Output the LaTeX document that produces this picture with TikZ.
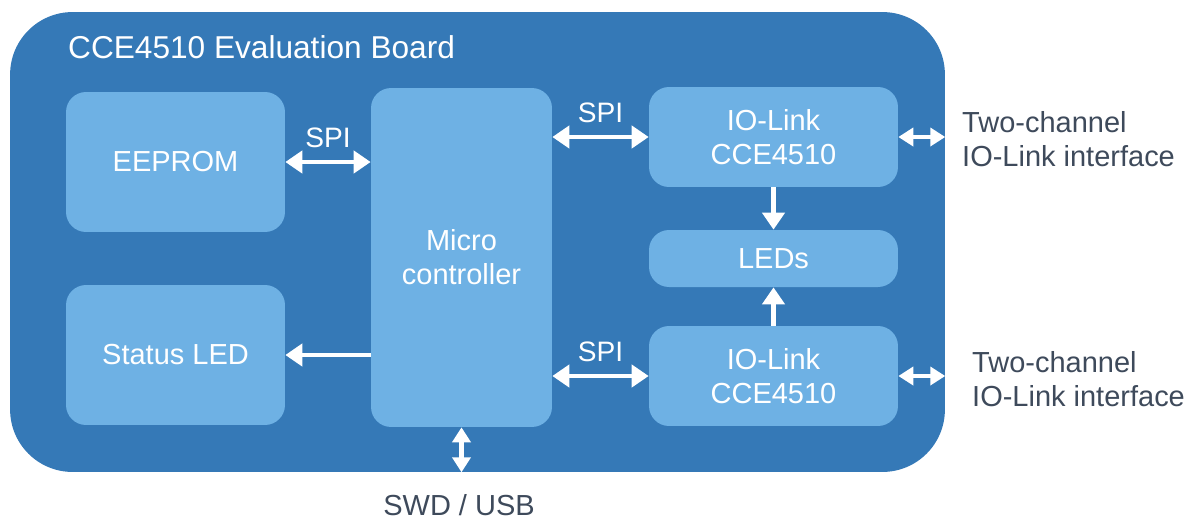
\documentclass[tikz,border=0pt]{standalone}
\usepackage{fontspec}
\setmainfont{Liberation Sans}
\usetikzlibrary{arrows.meta,positioning}
\definecolor{boardblue}{HTML}{3579B7}
\definecolor{blockblue}{HTML}{6EB1E4}
\definecolor{labelgray}{HTML}{3E4A5B}
\tikzset{
	block/.style={fill=blockblue, rounded corners=0.4cm, text=white,
		font=\fontsize{16.5}{19.5}\selectfont, align=center, inner sep=0pt},
	bus/.style={white, line width=2.8pt,
		{Triangle[length=0.34cm,width=0.44cm]}-{Triangle[length=0.34cm,width=0.44cm]}},
	onebus/.style={white, line width=2.8pt, -{Triangle[length=0.34cm,width=0.44cm]}},
	portbus/.style={white, line width=2.6pt,
		{Triangle[length=0.3cm,width=0.36cm]}-{Triangle[length=0.3cm,width=0.36cm]}},
	buslabel/.style={text=white, font=\fontsize{16}{19}\selectfont},
	outlabel/.style={text=labelgray, font=\fontsize{16.5}{19}\selectfont, align=left}
}

\begin{document}
\begin{tikzpicture}[x=0.02cm, y=-0.02cm]
	\useasboundingbox (0,0) rectangle (1189,521);
	% board
	\node[fill=boardblue, rounded corners=1.25cm, minimum width=18.7cm,
		minimum height=9.2cm, inner sep=0pt] (board) at (477.5,242) {};
	\node[anchor=base west, text=white, font=\fontsize{18}{22}\selectfont]
		(title) at (62,58) {CCE4510 Evaluation Board};
	% blocks
	\node[block, minimum width=4.38cm, minimum height=2.8cm] (eeprom) at (175.5,162) {EEPROM};
	\node[block, minimum width=4.38cm, minimum height=2.8cm] (status) at (175.5,355) {Status LED};
	\node[block, minimum width=3.62cm, minimum height=6.78cm] (mcu) at (461.5,257.5) {Micro\\controller};
	\node[block, minimum width=4.98cm, minimum height=2.0cm] (iotop) at (773.5,137) {IO-Link\\CCE4510};
	\node[block, minimum width=4.98cm, minimum height=1.14cm] (leds) at (773.5,258.5) {LEDs};
	\node[block, minimum width=4.98cm, minimum height=2.0cm] (iobot) at (773.5,376) {IO-Link\\CCE4510};
	% connections
	\draw[bus] (eeprom.east) -- (eeprom.east -| mcu.west)
		node[buslabel, midway, above=0.12cm] (spia) {SPI};
	\draw[onebus] (status.east -| mcu.west) -- (status.east);
	\draw[bus] (iotop.west -| mcu.east) -- (iotop.west)
		node[buslabel, midway, above=0.12cm] (spib) {SPI};
	\draw[bus] (iobot.west -| mcu.east) -- (iobot.west)
		node[buslabel, midway, above=0.12cm] (spic) {SPI};
	\draw[onebus] (iotop.south) -- (leds.north);
	\draw[onebus] (iobot.north) -- (leds.south);
	\draw[portbus] (iotop.east) -- (iotop.east -| board.east);
	\draw[portbus] (iobot.east) -- (iobot.east -| board.east);
	\draw[portbus] (mcu.south) -- (mcu.south |- board.south);
	% outside labels
	\node[outlabel, anchor=west] (porttop) at (956,139) {Two-channel\\IO-Link interface};
	\node[outlabel, anchor=west] (portbot) at (966,379) {Two-channel\\IO-Link interface};
	\node[text=labelgray, font=\fontsize{16.5}{19}\selectfont, inner sep=1pt]
		(swd) at (459,505) {SWD / USB};
\end{tikzpicture}
\end{document}
